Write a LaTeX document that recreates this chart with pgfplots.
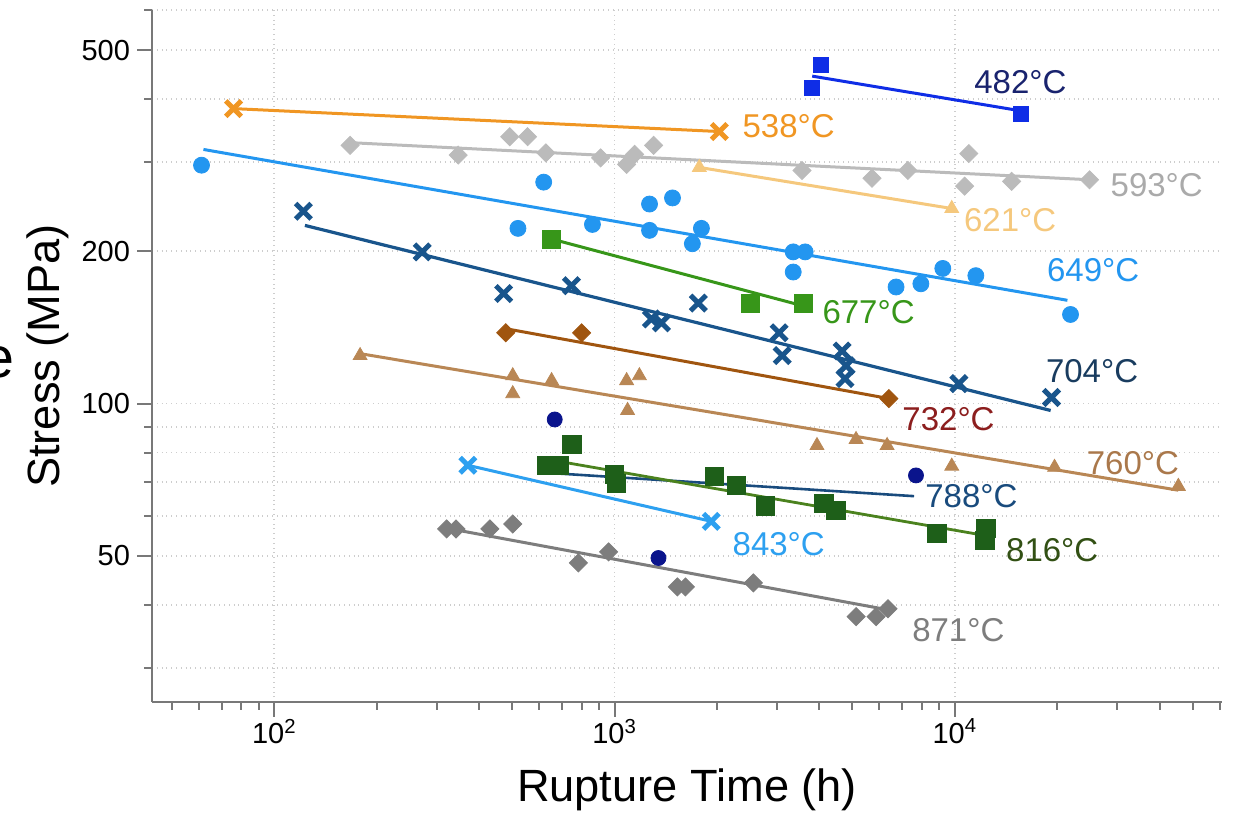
\documentclass[border=0pt]{standalone}
\usepackage{fontspec}
\setmainfont{Liberation Sans}
\usepackage{pgfplots}
\pgfplotsset{compat=1.18}

\definecolor{axisgray}{RGB}{120,120,120}
\definecolor{gridgray}{RGB}{205,205,205}
\definecolor{c482}{RGB}{15,45,230}
\definecolor{c482t}{RGB}{25,35,110}
\definecolor{c538}{RGB}{240,150,35}
\definecolor{c593}{RGB}{187,187,187}
\definecolor{c593t}{RGB}{170,170,170}
\definecolor{c621}{RGB}{245,200,125}
\definecolor{c649}{RGB}{35,150,240}
\definecolor{c677}{RGB}{55,150,25}
\definecolor{c704}{RGB}{25,85,140}
\definecolor{c704t}{RGB}{25,60,95}
\definecolor{c732}{RGB}{160,85,15}
\definecolor{c732t}{RGB}{140,30,30}
\definecolor{c760}{RGB}{185,135,85}
\definecolor{c760t}{RGB}{170,120,75}
\definecolor{c788}{RGB}{10,20,140}
\definecolor{c788l}{RGB}{25,75,125}
\definecolor{c816}{RGB}{30,95,25}
\definecolor{c816l}{RGB}{75,130,30}
\definecolor{c816t}{RGB}{50,80,20}
\definecolor{c843}{RGB}{45,160,240}
\definecolor{c871}{RGB}{125,125,125}

\begin{document}
\begin{tikzpicture}[lbl/.style={anchor=west, inner sep=0, font=\fontsize{16.5}{18}\selectfont}]
% page frame (reference proportions)
\path (-76pt,-55pt) rectangle (543pt,351pt);
\node[overlay, anchor=east, inner sep=0, font=\fontsize{28.7}{30}\selectfont] at (-68.5pt,170pt) {e};
\begin{axis}[
    scale only axis,
    width=535pt, height=346pt,
    xmode=log, ymode=log,
    xmin=43.7, xmax=61000,
    ymin=25.7, ymax=600,
    axis x line*=bottom, axis y line*=left,
    axis line style={draw=axisgray, line width=1pt, -},
    tick align=outside,
    major tick length=7.5pt, minor tick length=4pt,
    every tick/.style={axisgray, line width=1pt},
    xtick={100,1000,10000},
    xticklabels={10\textsuperscript{2},10\textsuperscript{3},10\textsuperscript{4}},
    minor xtick={50,60,70,80,90,200,300,400,500,600,700,800,900,2000,3000,4000,5000,6000,7000,8000,9000,20000,30000,40000,50000,60000},
    ytick={50,100,200,500},
    yticklabels={50,100,200,500},
    minor ytick={30,40,60,70,80,90,300,400,600},
    xmajorgrids, ymajorgrids, yminorgrids,
    major grid style={dotted, gridgray, line width=0.9pt},
    minor grid style={dotted, gridgray, line width=0.9pt},
    ticklabel style={font=\fontsize{14.5}{17}\selectfont},
    xticklabel style={yshift=2.5pt},
    xlabel={Rupture Time (h)},
    ylabel={Stress (MPa)},
    label style={font=\fontsize{22.6}{26}\selectfont},
    xlabel style={at={(axis description cs:0.5,-0.1445)}, anchor=base},
    ylabel style={at={(axis description cs:-0.086,0.5)}, anchor=base},
    clip=false,
]
% 482 C
\addplot[only marks, mark=square*, mark size=3.75pt, color=c482] coordinates {(3810,420) (4045,468) (15640,374)};
\addplot[no marks, c482, line width=1.5pt] coordinates {(3810,444) (15300,380)};
% 538 C
\addplot[only marks, mark=x, mark size=5.5pt, line width=2.5pt, color=c538] coordinates {(75.9,383) (2032,345)};
\addplot[no marks, c538, line width=1.5pt] coordinates {(75.9,383) (2032,345)};
% 593 C
\addplot[only marks, mark=square*, mark size=3.2pt, mark options={rotate=45}, color=c593] coordinates {
(167,324) (347,310) (492,337) (555,337) (628,313) (910,306) (1085,297) (1145,311) (1302,324)
(3556,289) (5710,279) (7280,289) (10990,312) (10690,269) (14690,275) (24900,277)};
\addplot[no marks, c593, line width=1.5pt] coordinates {(167,328) (24900,277)};
% 621 C
\addplot[only marks, mark=triangle*, mark size=4pt, color=c621] coordinates {(1775,293) (9795,243)};
\addplot[no marks, c621, line width=1.5pt] coordinates {(1775,293) (9795,243)};
% 649 C
\addplot[only marks, mark=*, mark size=4pt, color=c649] coordinates {
(61.1,296) (619,274) (520,222) (861,226) (1267,248) (1480,255) (1267,220) (1800,222) (1693,207)
(3350,199.5) (3632,199.5) (3350,182) (6720,170) (7950,172.5) (9220,185) (11530,179) (21880,150)};
\addplot[no marks, c649, line width=1.5pt] coordinates {(61.9,318) (21430,160)};
% 677 C
\addplot[only marks, mark=square*, mark size=4.5pt, color=c677] coordinates {(653,211.5) (2506,158) (3582,157.5)};
\addplot[no marks, c677, line width=1.5pt] coordinates {(653,211.5) (3582,156)};
% 704 C
\addplot[only marks, mark=x, mark size=5.5pt, line width=2.5pt, color=c704] coordinates {
(121.7,240) (272,199.5) (472,165) (747,171) (1283,147) (1373,144.4) (1763,158) (3045,138) (3110,124.4)
(4665,127) (4790,118.8) (4755,112) (10280,109.5) (19240,102.8)};
\addplot[no marks, c704, line width=1.6pt] coordinates {(123,225) (19130,96.9)};
% 732 C
\addplot[only marks, mark=square*, mark size=3.2pt, mark options={rotate=45}, color=c732] coordinates {(479,138) (800,138) (6400,102.3)};
\addplot[no marks, c732, line width=1.5pt] coordinates {(479,140.6) (6400,102.3)};
% 760 C
\addplot[only marks, mark=triangle*, mark size=4pt, color=c760] coordinates {
(178.7,124.4) (502,113.5) (502,104.6) (653,111) (1085,111) (1183,113.5) (1092,96.9)
(3935,82.6) (5125,84.9) (6325,82.6) (9795,75.2) (19640,74.8) (45400,68.6)};
\addplot[no marks, c760, line width=1.5pt] coordinates {(178.7,125.5) (45400,67.4)};
% 788 C
\addplot[only marks, mark=*, mark size=3.75pt, color=c788] coordinates {(667,93) (1346,49.5) (7690,72.1)};
\addplot[no marks, c788l, line width=1.3pt] coordinates {(667,72.8) (7590,65.6)};
% 816 C
\addplot[only marks, mark=square*, mark size=4.6pt, color=c816] coordinates {
(632,75.5) (686,75.5) (749,83) (1000,72.4) (1014,69.6) (1965,71.8) (2278,68.9) (2772,62.7)
(4128,63.5) (4478,61.5) (8855,55.4) (12330,56.7) (12250,53.7)};
\addplot[no marks, c816l, line width=1.4pt] coordinates {(632,77.6) (12170,54.9)};
% 843 C
\addplot[only marks, mark=x, mark size=5.5pt, line width=2.5pt, color=c843] coordinates {(370.6,75.5) (1924,58.5)};
\addplot[no marks, c843, line width=1.5pt] coordinates {(370.6,75.5) (1924,58.5)};
% 871 C
\addplot[only marks, mark=square*, mark size=3.2pt, mark options={rotate=45}, color=c871] coordinates {
(321,56.5) (342,56.5) (430,56.5) (502,57.8) (783,48.4) (960,50.9) (1530,43.4) (1616,43.4) (2558,44.2)
(5130,37.9) (5870,37.9) (6360,39.3)};
\addplot[no marks, c871, line width=1.5pt] coordinates {(321,56.7) (6360,39.1)};

% temperature labels
\node[lbl, c482t] at (axis cs:11380,432) {482°C};
\node[lbl, c538] at (axis cs:2372,353) {538°C};
\node[lbl, c593t] at (axis cs:28640,270.7) {593°C};
\node[lbl, c621] at (axis cs:10620,231) {621°C};
\node[lbl, c649] at (axis cs:18620,183.7) {649°C};
\node[lbl, c677] at (axis cs:4074,151.4) {677°C};
\node[lbl, c704t] at (axis cs:18490,116.1) {704°C};
\node[lbl, c732t] at (axis cs:7000,93.2) {732°C};
\node[lbl, c760t] at (axis cs:24380,76.4) {760°C};
\node[lbl, c788l] at (axis cs:8170,65.6) {788°C};
\node[lbl, c816t] at (axis cs:14120,51.4) {816°C};
\node[lbl, c843] at (axis cs:2218,52.7) {843°C};
\node[lbl, c871] at (axis cs:7480,35.7) {871°C};
\end{axis}
\end{tikzpicture}
\end{document}
